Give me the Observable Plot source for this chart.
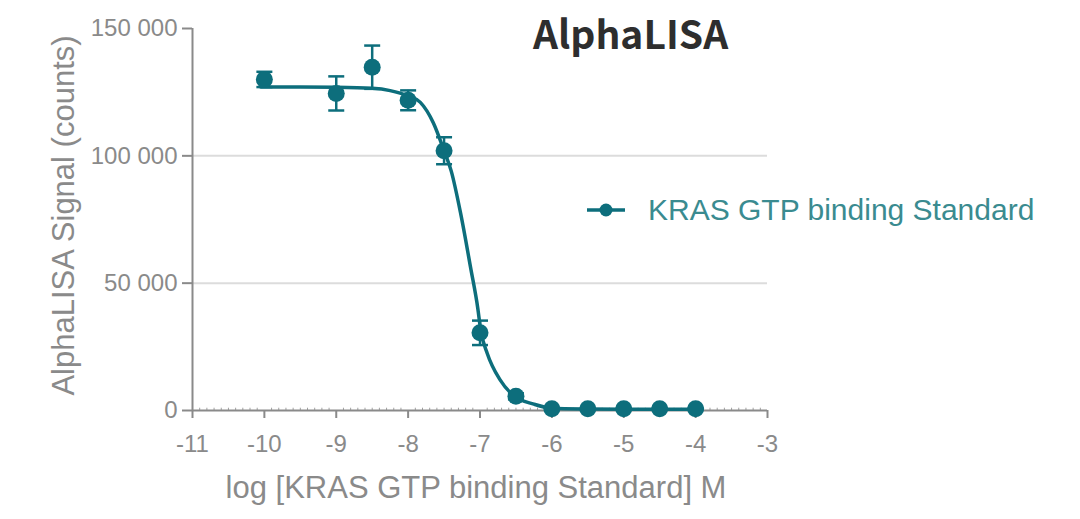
<!DOCTYPE html>
<html>
<head>
<meta charset="utf-8">
<script src="https://cdn.jsdelivr.net/npm/d3@7"></script>
<script src="https://cdn.jsdelivr.net/npm/@observablehq/plot@0.6"></script>
<style>
  html, body { margin: 0; padding: 0; background: #fff; }
  #wrap { position: relative; width: 1080px; height: 519px; overflow: hidden; }
  #title { position: absolute; left: 533px; top: 13px; font-family: "Noto Sans CJK SC", "Noto Sans", sans-serif; font-weight: 700; font-size: 39px; color: #2e2e2e; line-height: 1; white-space: nowrap; }
  #legend { position: absolute; left: 585px; top: 193px; display: flex; align-items: center; font-family: "Liberation Sans", Arial, sans-serif; font-size: 30px; color: #3a8b90; white-space: nowrap; }
  #legend svg { margin-right: 21px; }
</style>
</head>
<body>
<div id="wrap">
  <div id="chart"></div>
  <div id="title">AlphaLISA</div>
  <div id="legend"></div>
</div>
<script>
// ---- data ----
const xTicks = [-11, -10, -9, -8, -7, -6, -5, -4, -3];
const yTicks = [0, 50000, 100000, 150000];
const gridY = [50000, 100000];

const pointX   = [-10, -9, -8.5, -8, -7.5, -7, -6.5, -6, -5.5, -5, -4.5, -4];
const pointY   = [130000, 124500, 134800, 121800, 102000, 30500, 5600, 700, 700, 700, 700, 700];
const pointErr = [3000, 6700, 8500, 3900, 5300, 4800, 1200, 300, 300, 300, 300, 300];

const fitX = [-10.05, -9.5, -9, -8.5, -8.25, -8, -7.83, -7.65, -7.5, -7.4, -7.27, -7.13, -7.03, -6.99, -6.9, -6.72, -6.53, -6.25, -6, -5.5, -5, -4];
const fitY = [127000, 127000, 126900, 126500, 125600, 123500, 121000, 113000, 102000, 94000, 77500, 56000, 40000, 31500, 22500, 12000, 5800, 2500, 900, 600, 500, 500];

const seriesName = "KRAS GTP binding Standard";
const title = "AlphaLISA";
const xLabel = "log [KRAS GTP binding Standard] M";
const yLabel = "AlphaLISA Signal (counts)";

// ---- styles ----
const teal = "#0d6e7c";
const grey = "#8a8a8a";
const axisFont = "Liberation Sans, Arial, sans-serif";

const points = pointX.map((x, i) => ({x, y: pointY[i], lo: pointY[i] - pointErr[i], hi: pointY[i] + pointErr[i]}));
const fit = fitX.map((x, i) => ({x, y: fitY[i]}));
const minorTicks = d3.range(-110, -30).filter(v => v % 10 !== 0).map(v => v / 10);

const capSymbol = {
  draw(context, size) {
    const r = Math.sqrt(size / Math.PI);
    context.moveTo(-r, 0);
    context.lineTo(r, 0);
  }
};

const fmt = v => d3.format(",")(v).replace(/,/g, " ");

const chart = Plot.plot({
  width: 1080,
  height: 519,
  marginLeft: 192,
  marginRight: 313,
  marginTop: 28,
  marginBottom: 109,
  style: {background: "transparent", fontFamily: axisFont},
  x: {domain: [-11, -3]},
  y: {domain: [0, 150000]},
  marks: [
    Plot.ruleY(gridY, {stroke: "#dcdcdc", strokeWidth: 2}),
    Plot.ruleX(minorTicks, {y1: 0, y2: 900, stroke: "#a0a0a0", strokeWidth: 1}),
    Plot.ruleY([0], {stroke: grey, strokeWidth: 2}),
    Plot.ruleX([-11], {y1: 0, y2: 150000, stroke: grey, strokeWidth: 2}),
    Plot.axisX({ticks: xTicks, tickSize: 8, tickPadding: 16, tickFormat: d => String(d), stroke: grey, strokeWidth: 2, fill: grey, fontSize: 24, fontFamily: axisFont, label: null}),
    Plot.axisY({ticks: yTicks, tickSize: 10, tickPadding: 5, tickFormat: fmt, stroke: grey, strokeWidth: 2, fill: grey, fontSize: 24, fontFamily: axisFont, label: null}),
    Plot.text([xLabel], {frameAnchor: "bottom", lineAnchor: "middle", textAnchor: "middle", dx: -4, dy: 78, fill: grey, fontSize: 31, fontFamily: axisFont, text: d => d}),
    Plot.text([yLabel], {frameAnchor: "left", lineAnchor: "middle", textAnchor: "middle", dx: -128, dy: -4, rotate: -90, fill: grey, fontSize: 31, fontFamily: axisFont, text: d => d}),
    Plot.line(fit, {x: "x", y: "y", stroke: teal, strokeWidth: 3.5, curve: "monotone-x"}),
    Plot.ruleX(points, {x: "x", y1: "lo", y2: "hi", stroke: teal, strokeWidth: 2.5}),
    Plot.dot(points, {x: "x", y: "hi", symbol: capSymbol, r: 8, stroke: teal, strokeWidth: 2.5, fill: "none"}),
    Plot.dot(points, {x: "x", y: "lo", symbol: capSymbol, r: 8, stroke: teal, strokeWidth: 2.5, fill: "none"}),
    Plot.dot(points, {x: "x", y: "y", r: 8.5, fill: teal, stroke: "none"})
  ]
});
document.getElementById("chart").appendChild(chart);

// legend
const leg = document.getElementById("legend");
leg.innerHTML = `<svg width="42" height="20" viewBox="0 0 42 20"><line x1="2" y1="10" x2="40" y2="10" stroke="${teal}" stroke-width="3.5"/><circle cx="21" cy="10" r="6.5" fill="${teal}"/></svg><span>${seriesName}</span>`;
document.getElementById("title").textContent = title;
</script>
</body>
</html>
